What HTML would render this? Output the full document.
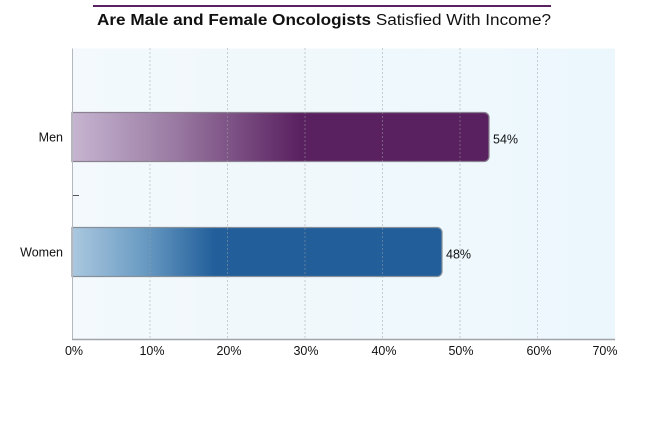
<!DOCTYPE html>
<html>
<head>
<meta charset="utf-8">
<style>
html,body{margin:0;padding:0;background:#fff;}
svg{display:block;}
text{font-family:"Liberation Sans",Arial,sans-serif;fill:#111;}
</style>
</head>
<body>
<svg width="645" height="439" viewBox="0 0 645 439" xmlns="http://www.w3.org/2000/svg">
  <defs>
    <linearGradient id="bg" x1="0" y1="0" x2="1" y2="0">
      <stop offset="0" stop-color="#f3f9fc"/>
      <stop offset="1" stop-color="#ecf7fd"/>
    </linearGradient>
    <linearGradient id="gm" gradientUnits="userSpaceOnUse" x1="72" y1="0" x2="300" y2="0">
      <stop offset="0" stop-color="#c6b5d1"/>
      <stop offset="0.45" stop-color="#9a7aa2"/>
      <stop offset="1" stop-color="#5a2161"/>
    </linearGradient>
    <linearGradient id="gw" gradientUnits="userSpaceOnUse" x1="72" y1="0" x2="215" y2="0">
      <stop offset="0" stop-color="#abc8df"/>
      <stop offset="0.5" stop-color="#6a9bc3"/>
      <stop offset="1" stop-color="#215e9a"/>
    </linearGradient>
  </defs>

  <!-- title -->
  <rect x="93" y="5" width="458" height="2" fill="#5a2161"/>
  <text x="97" y="25" font-size="15.5" textLength="454" lengthAdjust="spacingAndGlyphs"><tspan font-weight="bold">Are Male and Female Oncologists</tspan> Satisfied With Income?</text>

  <!-- plot background -->
  <rect x="72" y="48.5" width="543" height="291" fill="url(#bg)"/>

  <!-- bars -->
  <path d="M72,112.5 H484 a5,5 0 0 1 5,5 V156.5 a5,5 0 0 1 -5,5 H72 Z" fill="url(#gm)" stroke="#8a8290" stroke-width="1.2"/>
  <path d="M72,227.5 H437 a5,5 0 0 1 5,5 V271.5 a5,5 0 0 1 -5,5 H72 Z" fill="url(#gw)" stroke="#86909a" stroke-width="1.2"/>

  <!-- gridlines -->
  <g stroke="#9a9fa6" stroke-width="1" stroke-dasharray="1,3">
    <line x1="150" y1="48.5" x2="150" y2="339"/>
    <line x1="227.5" y1="48.5" x2="227.5" y2="339"/>
    <line x1="305" y1="48.5" x2="305" y2="339"/>
    <line x1="382.5" y1="48.5" x2="382.5" y2="339"/>
    <line x1="460" y1="48.5" x2="460" y2="339"/>
    <line x1="537.5" y1="48.5" x2="537.5" y2="339"/>
  </g>

  <!-- axes -->
  <line x1="72.5" y1="48.5" x2="72.5" y2="339" stroke="#b5b8bc" stroke-width="1"/>
  <line x1="72" y1="339.5" x2="615" y2="339.5" stroke="#a0a3a7" stroke-width="1.6"/>
  <line x1="73" y1="195.5" x2="79" y2="195.5" stroke="#555" stroke-width="1"/>

  <!-- category labels -->
  <text x="63" y="141.5" font-size="12.5" text-anchor="end">Men</text>
  <text x="63" y="256.5" font-size="12.5" text-anchor="end">Women</text>

  <!-- value labels -->
  <text x="493" y="143.5" font-size="12.5">54%</text>
  <text x="446" y="258.5" font-size="12.5">48%</text>

  <!-- x tick labels -->
  <g font-size="12.5" text-anchor="middle">
    <text x="74" y="355">0%</text>
    <text x="152" y="355">10%</text>
    <text x="229" y="355">20%</text>
    <text x="306" y="355">30%</text>
    <text x="384" y="355">40%</text>
    <text x="461" y="355">50%</text>
    <text x="539" y="355">60%</text>
    <text x="605" y="355">70%</text>
  </g>
</svg>
</body>
</html>
